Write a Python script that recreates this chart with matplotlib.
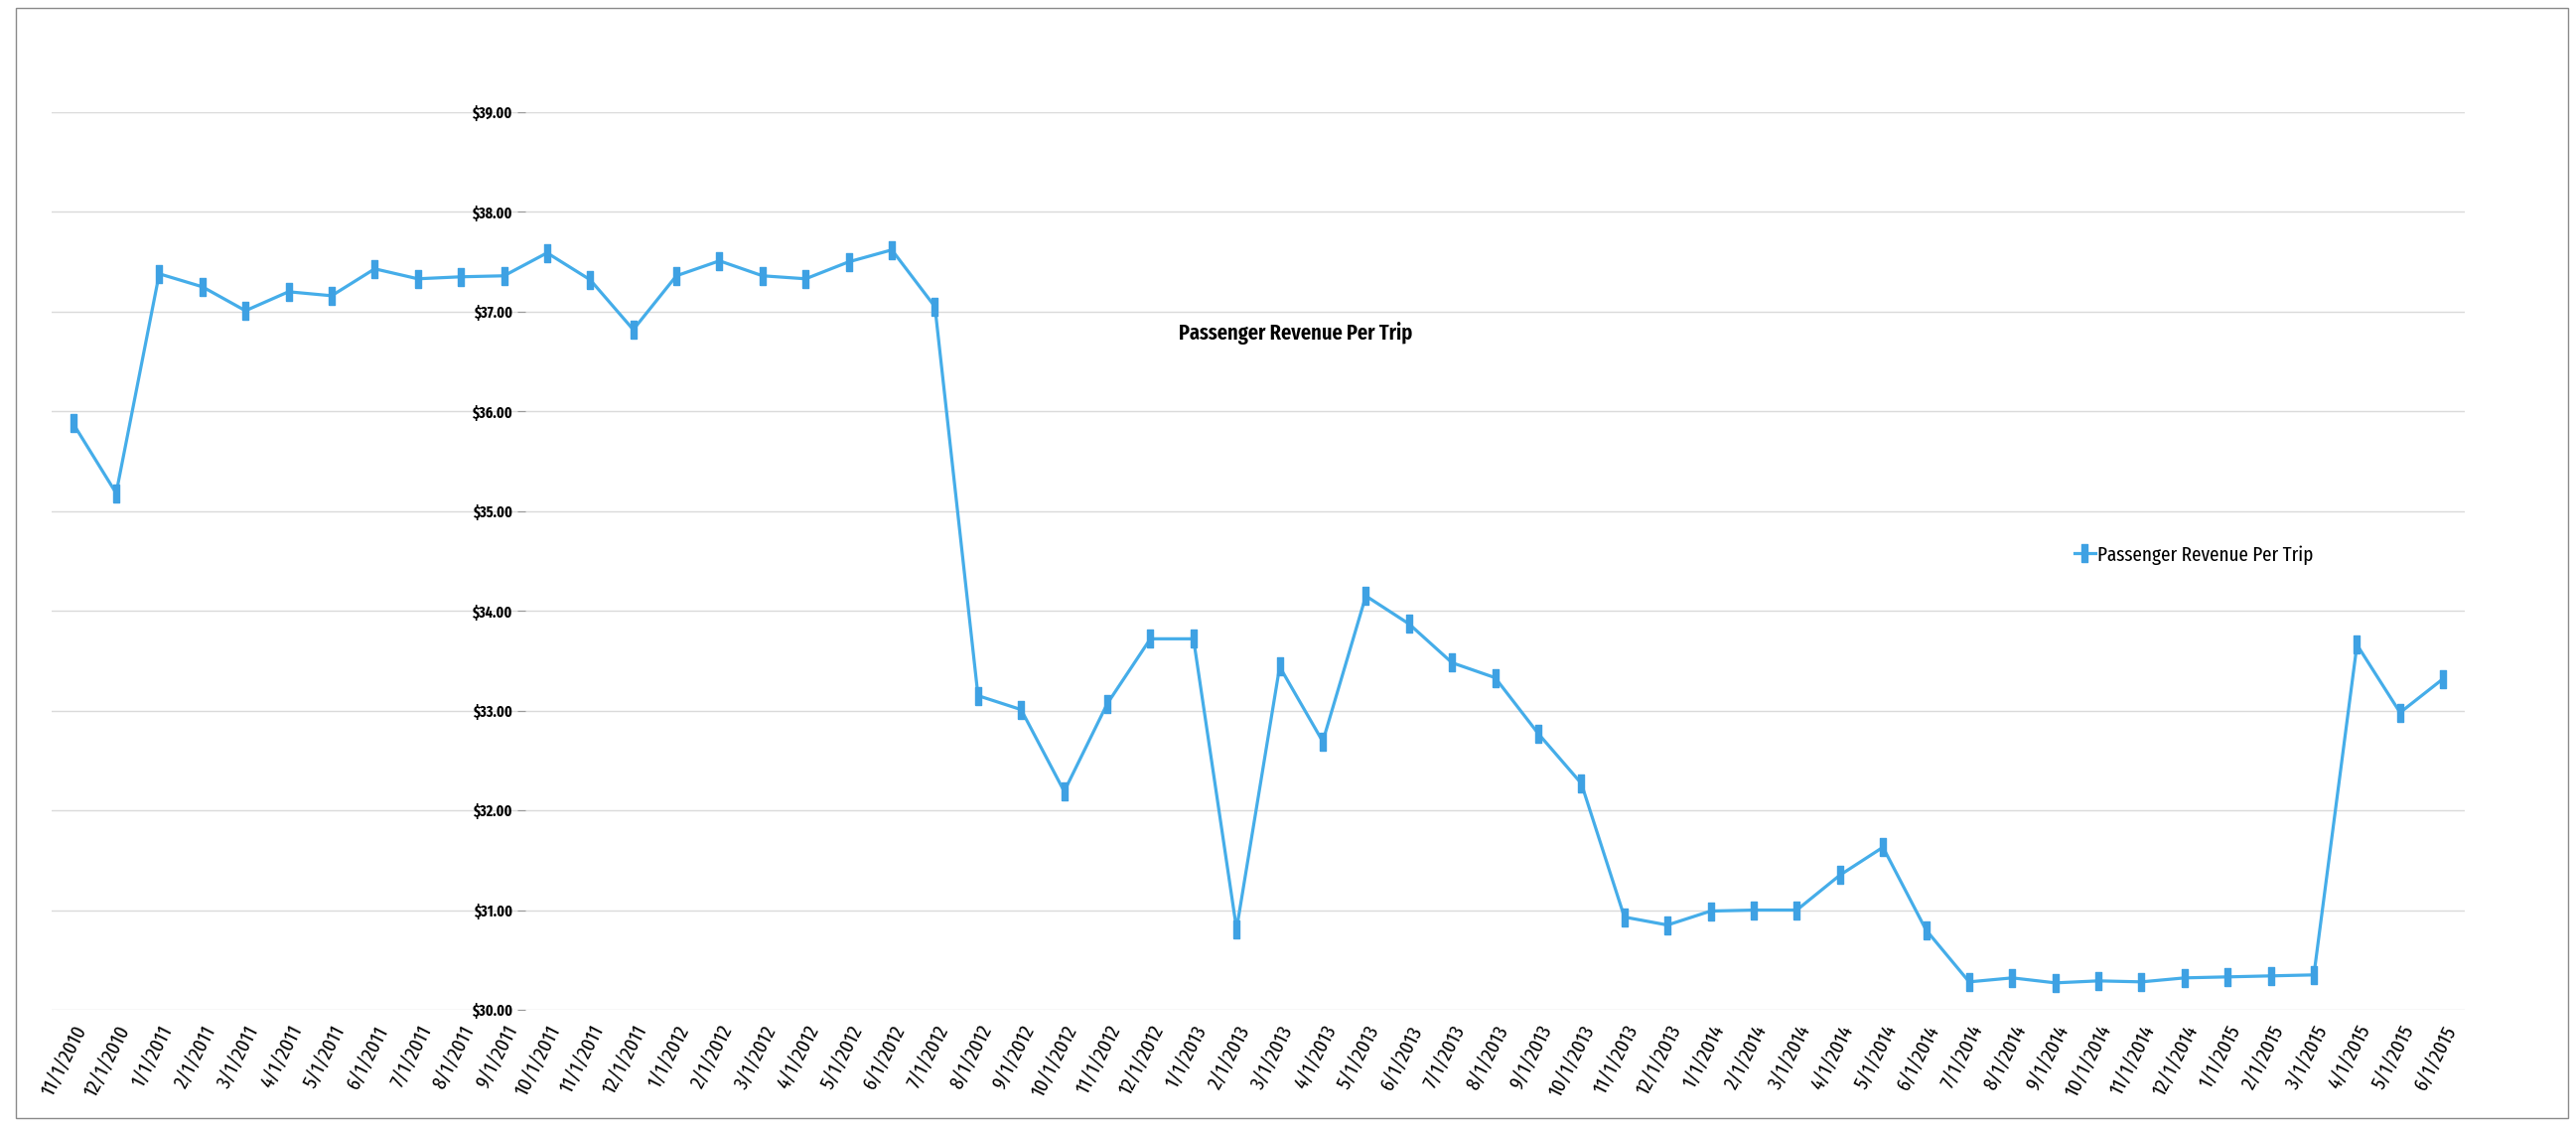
import matplotlib
matplotlib.use("Agg")
import matplotlib.pyplot as plt
from matplotlib.patches import Rectangle

plt.rcParams['font.family'] = ['Fira Sans Extra Condensed', 'Fira Sans Condensed', 'DejaVu Sans']

# monthly passenger revenue per trip, 11/2010 - 6/2015
months = ['11/1/2010', '12/1/2010',
          '1/1/2011', '2/1/2011', '3/1/2011', '4/1/2011', '5/1/2011', '6/1/2011',
          '7/1/2011', '8/1/2011', '9/1/2011', '10/1/2011', '11/1/2011', '12/1/2011',
          '1/1/2012', '2/1/2012', '3/1/2012', '4/1/2012', '5/1/2012', '6/1/2012',
          '7/1/2012', '8/1/2012', '9/1/2012', '10/1/2012', '11/1/2012', '12/1/2012',
          '1/1/2013', '2/1/2013', '3/1/2013', '4/1/2013', '5/1/2013', '6/1/2013',
          '7/1/2013', '8/1/2013', '9/1/2013', '10/1/2013', '11/1/2013', '12/1/2013',
          '1/1/2014', '2/1/2014', '3/1/2014', '4/1/2014', '5/1/2014', '6/1/2014',
          '7/1/2014', '8/1/2014', '9/1/2014', '10/1/2014', '11/1/2014', '12/1/2014',
          '1/1/2015', '2/1/2015', '3/1/2015', '4/1/2015', '5/1/2015', '6/1/2015']

revenue = [35.88, 35.18,
           37.38, 37.25, 37.01, 37.20, 37.16, 37.43,
           37.33, 37.35, 37.36, 37.59, 37.32, 36.82,
           37.36, 37.51, 37.36, 37.33, 37.50, 37.62,
           37.05, 33.15, 33.01, 32.19, 33.07, 33.72,
           33.72, 30.81, 33.44, 32.69, 34.15, 33.87,
           33.48, 33.33, 32.77, 32.27, 30.93, 30.85,
           30.99, 31.00, 31.00, 31.35, 31.63, 30.80,
           30.28, 30.32, 30.27, 30.29, 30.28, 30.32,
           30.33, 30.34, 30.35, 33.66, 32.98, 33.32]

yticks = list(range(30, 40))
series_name = 'Passenger Revenue Per Trip'

blue = '#45ade9'
bar_marker = [(-0.19, -0.5), (0.19, -0.5), (0.19, 0.5), (-0.19, 0.5), (-0.19, -0.5)]

fig = plt.figure(figsize=(25.94, 11.35), dpi=100)
ax = fig.add_axes([0.02, 0.104, 0.9368, 0.7964])

x = list(range(len(months)))
ax.plot(x, revenue, color=blue, lw=2.3, marker=bar_marker, ms=13,
        mfc='#3ea1e3', mec='#3ea1e3', label=series_name, zorder=3)

ax.set_xlim(-0.5, len(months) - 0.5)
ax.set_ylim(30, 39)
ax.set_yticks(yticks)
ax.set_yticklabels([f'${v:.2f}' for v in yticks])
ax.grid(axis='y', color='#dadada', lw=1)
ax.set_axisbelow(True)

for s in ['top', 'right', 'bottom']:
    ax.spines[s].set_visible(False)
# value axis crosses the category axis part way along, like the excel original
ax.spines['left'].set_position(('data', 10.5))
ax.spines['left'].set_color('none')
ax.tick_params(axis='y', length=6, color='#9a9a9a', pad=3, labelsize=11)
for lab in ax.get_yticklabels():
    lab.set_fontweight('bold')

ax.set_xticks(x)
ax.set_xticklabels(months, rotation=63, ha='right', rotation_mode='anchor', fontsize=15)
ax.tick_params(axis='x', length=0, pad=9)

fig.text(1305 / 2594, 1 - 336 / 1135, series_name, ha='center', va='center',
         fontsize=16, fontweight='semibold')

fig.legend(loc='center left', bbox_to_anchor=(2070 / 2594, 1 - 559 / 1135),
           frameon=False, fontsize=15, handlelength=1.0, handletextpad=0.1)

# thin border of the scanned page
fig.patches.append(Rectangle((16 / 2594, 9 / 1135), 2570 / 2594, 1118 / 1135,
                             transform=fig.transFigure, fill=False,
                             edgecolor='#8a8a8a', lw=1))

fig.savefig('out.png', dpi=100, facecolor='white')
